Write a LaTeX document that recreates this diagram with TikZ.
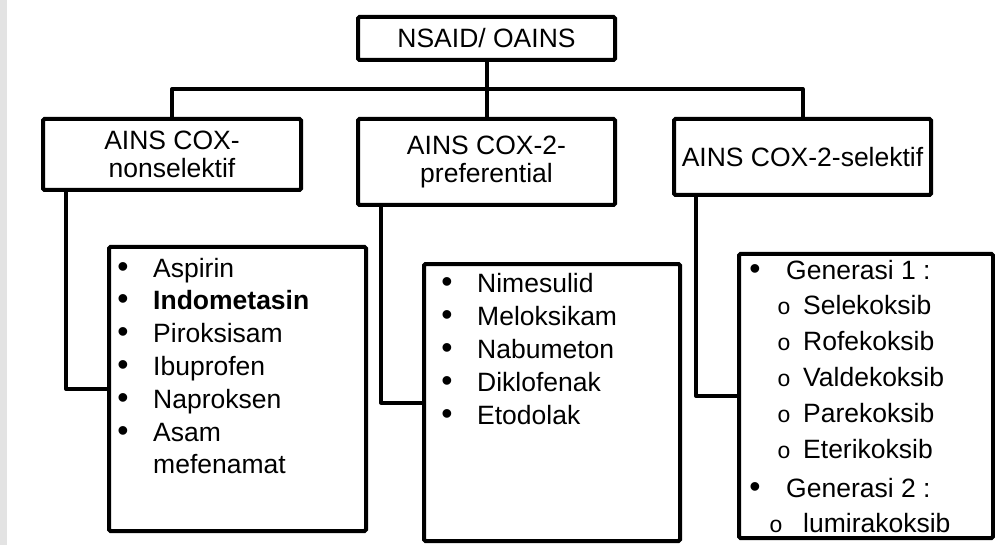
\documentclass[tikz,border=0pt]{standalone}
\usepackage{fontspec}
\setmainfont{Liberation Sans}
\newfontfamily\cour{Liberation Mono}
\begin{document}
\begin{tikzpicture}[x=1pt,y=-1pt,
  box/.style={draw=black,line width=4pt,rounded corners=1.5pt,inner sep=0pt,align=center,
    font=\fontsize{26.5}{28}\selectfont},
  link/.style={draw=black,line width=4pt,line join=round},
  txt/.style={inner sep=0pt,anchor=base west,font=\fontsize{26.5}{32}\selectfont},
  bul/.style={inner sep=0pt,anchor=base,font=\fontsize{32}{32}\selectfont},
  circ/.style={inner sep=0pt,anchor=base,font=\fontsize{23}{32}\cour}]
\useasboundingbox (0,0) rectangle (995,545);
\fill[gray!22] (0,0) rectangle (7,545);

% header boxes
\node[box,minimum width=257pt,minimum height=43pt] (top) at (486.5,38.5) {NSAID/ OAINS};
\node[box,minimum width=258pt,minimum height=71pt] (lbox) at (172,154.5) {AINS COX-\\nonselektif};
\node[box,minimum width=257pt,minimum height=86pt] (mbox) at (486.5,162) {AINS COX-2-\\preferential};
\node[box,minimum width=257pt,minimum height=76pt] (rbox) at (802.5,157) {AINS COX-2-selektif};

% list boxes
\node[box,minimum width=257pt,minimum height=284pt] (llist) at (237.5,389) {};
\node[box,minimum width=256pt,minimum height=277pt] (mlist) at (552,402.5) {};
\node[box,minimum width=254pt,minimum height=284pt] (rlist) at (866,396) {};

% connectors
\coordinate (bar) at (486.5,89);
\draw[link] (top.south) -- (mbox.north);
\draw[link] (lbox.north) |- (bar) -| (rbox.north);
\draw[link] ([xshift=25pt]lbox.south west) |- (llist.west);
\draw[link] ([xshift=25pt]mbox.south west) |- (mlist.west);
\draw[link] ([xshift=24pt]rbox.south west) |- (rlist.west);

% left list
\foreach \t/\yy [count=\i] in {Aspirin/277,\textbf{Indometasin}/309,Piroksisam/342,Ibuprofen/375,Naproksen/408,Asam/441}{
  \node[bul] (lb\i) at (123,\yy) {•};
  \node[txt] (lt\i) at (153,\yy) {\t};
}
\node[txt] (lt7) at (153,473) {mefenamat};

% middle list
\foreach \t/\yy [count=\i] in {Nimesulid/292,Meloksikam/325,Nabumeton/358,Diklofenak/391,Etodolak/424}{
  \node[bul] (mb\i) at (447,\yy) {•};
  \node[txt] (mt\i) at (477,\yy) {\t};
}

% right list
\node[bul] (rb1) at (755,279) {•};
\node[txt] (rg1) at (786,279) {Generasi 1 :};
\foreach \t/\yy [count=\i] in {Selekoksib/314,Rofekoksib/350,Valdekoksib/386,Parekoksib/422,Eterikoksib/458}{
  \node[circ] (rc\i) at (784,\yy) {o};
  \node[txt] (rt\i) at (803,\yy) {\t};
}
\node[bul] (rb2) at (755,497) {•};
\node[txt] (rg2) at (786,497) {Generasi 2 :};
\node[circ] (rc6) at (776,532) {o};
\node[txt] (rt6) at (803,532) {lumirakoksib};
\end{tikzpicture}
\end{document}
